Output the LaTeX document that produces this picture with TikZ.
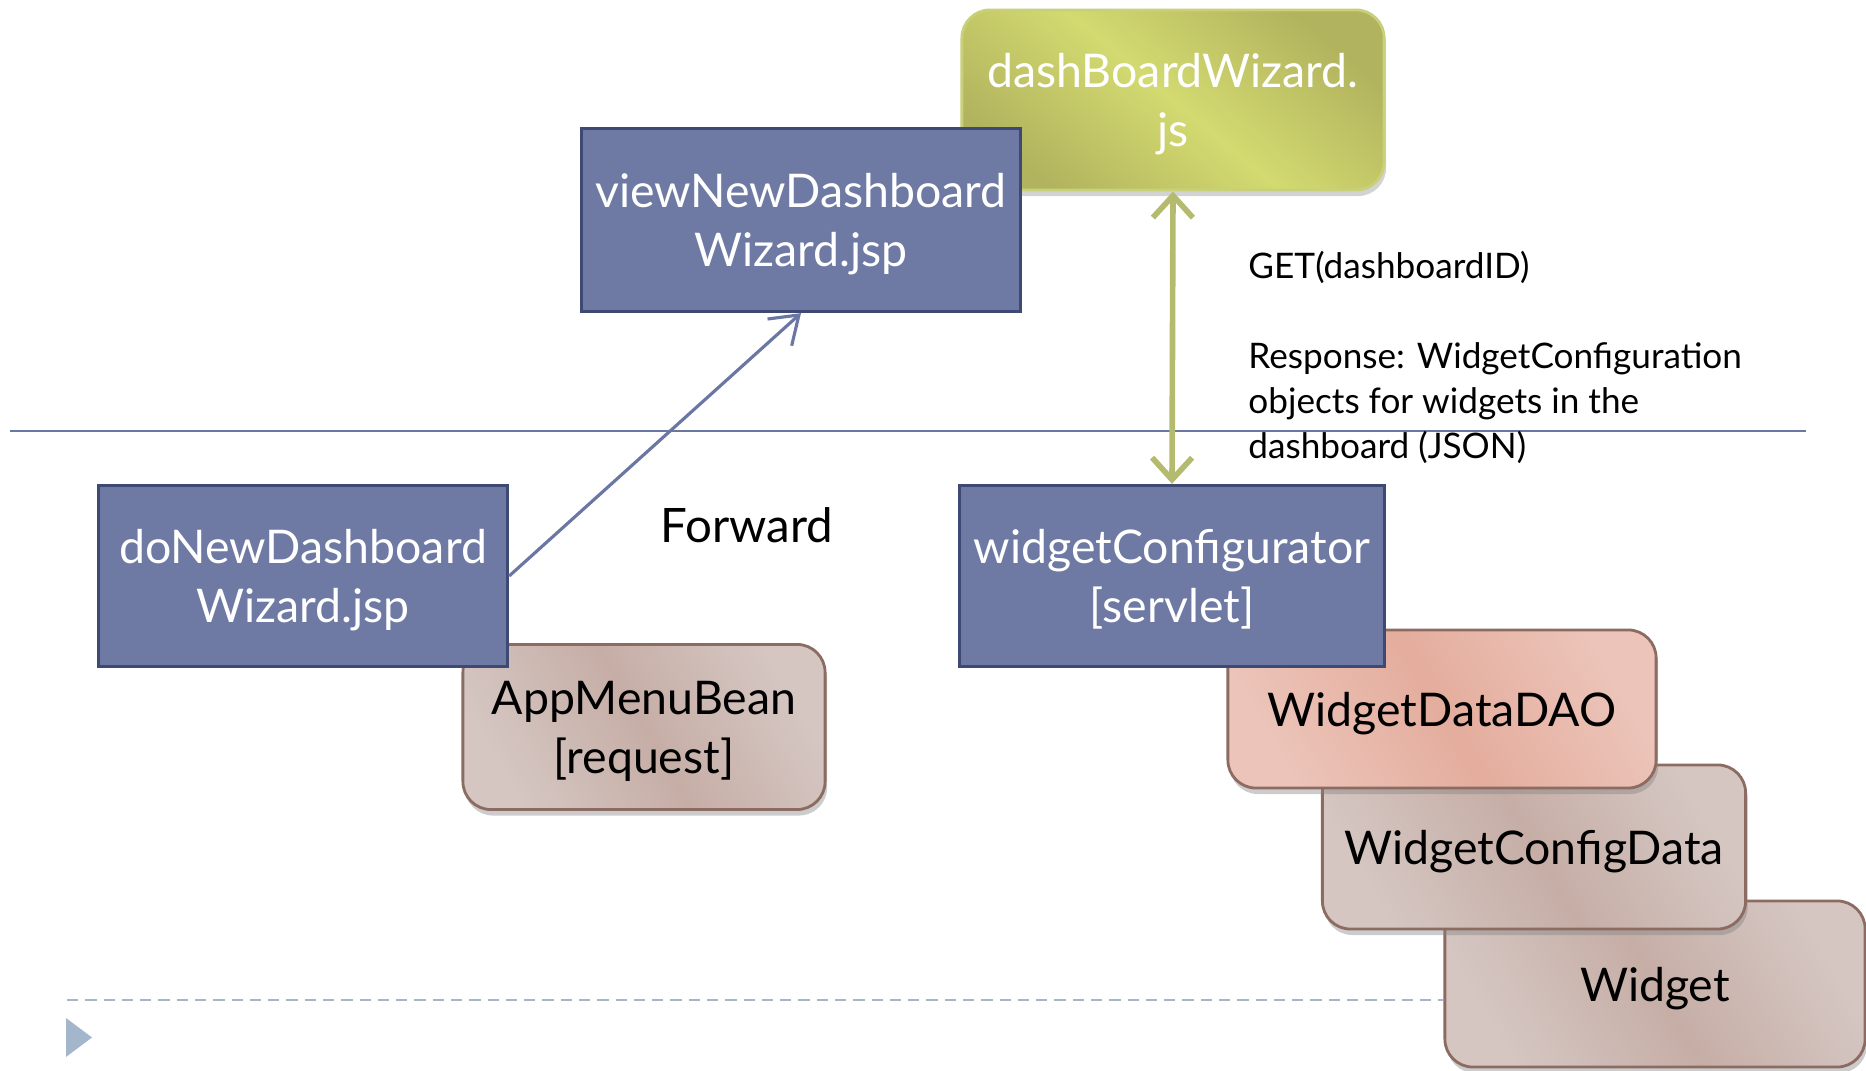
\documentclass[tikz,border=0pt]{standalone}
\usepackage{fontspec}
\setmainfont{Lato}
\usetikzlibrary{shadows,arrows.meta}
\definecolor{jsp fill}{HTML}{6E7AA3}
\definecolor{jsp edge}{HTML}{3E4A74}
\definecolor{js light}{HTML}{D3DA70}
\definecolor{js dark}{HTML}{B2B35E}
\definecolor{js edge}{HTML}{C8D07A}
\definecolor{bean light}{HTML}{D5C6C2}
\definecolor{bean dark}{HTML}{C6AEA6}
\definecolor{bean edge}{HTML}{8C6C62}
\definecolor{dao light}{HTML}{ECC4B9}
\definecolor{dao dark}{HTML}{E4AD9D}
\definecolor{layer rule}{HTML}{6B77A3}
\definecolor{foot}{HTML}{A3B6CC}
\colorlet{call line}{js edge!90!black}
\tikzset{jsp/.style={draw=jsp edge, line width=0.9pt, fill=jsp fill, text=white,
        align=center, text depth=0pt, font=\fontsize{13.2}{16.8}\selectfont},
    js/.style={draw=js edge, line width=0.8pt, rounded corners=0.28cm,
        left color=js dark, right color=js dark, middle color=js light, shading angle=-40,
        text=white, align=center, text depth=0pt, font=\fontsize{13.2}{16.8}\selectfont,
        drop shadow={opacity=0.35, shadow xshift=0.02cm, shadow yshift=-0.06cm}},
    bean/.style={draw=bean edge, line width=0.8pt, rounded corners=0.28cm,
        left color=bean light, right color=bean light, middle color=bean dark, shading angle=-60,
        align=center, text depth=0pt, font=\fontsize{13.2}{16.8}\selectfont,
        drop shadow={opacity=0.4, shadow xshift=0.02cm, shadow yshift=-0.06cm}},
    dao/.style={bean, left color=dao light, right color=dao light, middle color=dao dark, shading angle=-60},
    note/.style={font=\fontsize{10}{12.8}\selectfont, align=left}}

\begin{document}
\begin{tikzpicture}[x=0.01cm, y=-0.01cm]
    \useasboundingbox (0,0) rectangle (1866,1071);
    % database side, back to front
    \node[bean, minimum width=4.2cm, minimum height=1.66cm] (widget) at (1655,984) {Widget};
    \node[bean, minimum width=4.23cm, minimum height=1.64cm] (cfgdata) at (1534,847) {WidgetConfigData};
    \node[dao, minimum width=4.28cm, minimum height=1.58cm] (dao) at (1442,709) {WidgetDataDAO};
    \node[jsp, minimum width=4.24cm, minimum height=1.81cm] (servlet) at (1172,576) {widgetConfigurator\\{[servlet]}};
    % request side
    \node[bean, minimum width=3.62cm, minimum height=1.65cm] (bean) at (644,727) {AppMenuBean\\{[request]}};
    \node[jsp, minimum width=4.09cm, minimum height=1.81cm] (donew) at (303,576) {doNewDashboard\\Wizard.jsp};
    % client side
    \node[js, minimum width=4.22cm, minimum height=1.8cm] (wizjs) at (1173,100) {dashBoardWizard.\\js};
    \node[jsp, minimum width=4.39cm, minimum height=1.83cm] (viewnew) at (801,220) {viewNewDashboard\\Wizard.jsp};

    \draw[layer rule, line width=0.5pt] (10,431) -- (1806,431);
    \draw[layer rule, line width=0.9pt, -{Straight Barb[length=2.6mm, width=3.6mm]}] (donew.east) -- (viewnew.south);
    \node[font=\fontsize{13.5}{16}\selectfont] (fwd) at (747,525) {Forward};

    \draw[call line, line width=1.6pt, {Straight Barb[length=2.2mm, width=4mm]}-{Straight Barb[length=2.2mm, width=4mm]}]
        (wizjs.south) -- (servlet.north);
    \node[note, anchor=west] (msg) at (1236,357)
        {GET(dashboardID)\\ \\Response: WidgetConfiguration\\objects for widgets in the\\dashboard (JSON)};

    % footer
    \draw[foot, line width=0.6pt, dash pattern=on 3.2pt off 2pt] (67,1000) -- (widget.west |- 0,1000);
    \fill[foot] (66,1018) -- (92,1037.5) -- (66,1057) -- cycle;
\end{tikzpicture}
\end{document}
